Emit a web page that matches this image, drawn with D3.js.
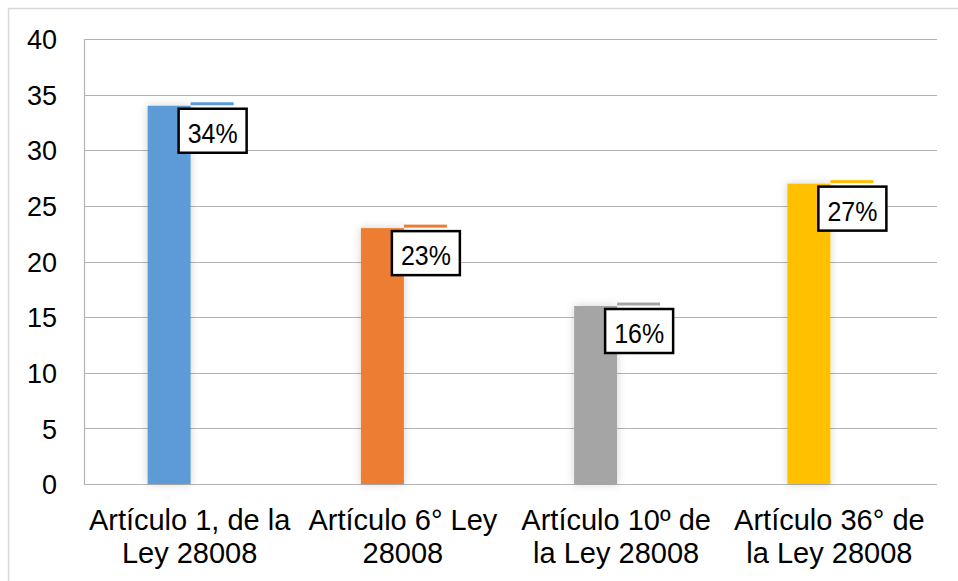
<!DOCTYPE html>
<html>
<head>
<meta charset="utf-8">
<script src="https://cdn.jsdelivr.net/npm/d3@7"></script>
<style>
  html, body { margin: 0; padding: 0; background: #fff; }
  svg { display: block; }
  text { font-family: "Liberation Sans", Arial, sans-serif; }
</style>
</head>
<body>
<svg id="chart" width="958" height="581"></svg>
<script>
// Categories (two-line labels), values and their percentage labels
const categories = [
  ["Artículo 1, de la", "Ley 28008"],
  ["Artículo 6° Ley", "28008"],
  ["Artículo 10º de", "la Ley 28008"],
  ["Artículo 36° de", "la Ley 28008"]
];
const values = [34, 23, 16, 27];
const valueLabels = ["34%", "23%", "16%", "27%"];
const colors = ["#5b9bd5", "#ed7d31", "#a5a5a5", "#ffc000"];
const yTicks = [0, 5, 10, 15, 20, 25, 30, 35, 40];

const svg = d3.select("#chart");
const W = 958, H = 581;
const margin = { left: 84, right: 21, top: 39, bottom: 97 };

// Outer chart border
svg.append("rect")
  .attr("x", 8.5).attr("y", 8.5)
  .attr("width", W + 10).attr("height", H + 10)
  .attr("fill", "none").attr("stroke", "#d9d9d9").attr("stroke-width", 1.5);

const x = d3.scaleBand()
  .domain(d3.range(categories.length))
  .range([margin.left, W - margin.right])
  .paddingInner(0).paddingOuter(0);

const y = d3.scaleLinear().domain([0, 40]).range([H - margin.bottom, margin.top]);

// Soft shadow behind the columns
const defs = svg.append("defs");
const f = defs.append("filter").attr("id", "glow")
  .attr("x", "-50%").attr("y", "-10%").attr("width", "200%").attr("height", "120%");
f.append("feDropShadow").attr("dx", 0).attr("dy", 0)
  .attr("stdDeviation", 4).attr("flood-color", "#000").attr("flood-opacity", 0.18);

// Horizontal gridlines
svg.append("g").selectAll("line").data(yTicks).join("line")
  .attr("x1", margin.left).attr("x2", W - margin.right)
  .attr("y1", d => Math.round(y(d)) + 0.5).attr("y2", d => Math.round(y(d)) + 0.5)
  .attr("stroke", "#b3b3b3").attr("stroke-width", 1.2);

// Left edge of the plot area
svg.append("line")
  .attr("x1", margin.left + 0.5).attr("x2", margin.left + 0.5)
  .attr("y1", y(40)).attr("y2", y(0))
  .attr("stroke", "#b3b3b3").attr("stroke-width", 1.2);

// Y axis labels
const yAxis = d3.axisLeft(y).tickValues(yTicks).tickSize(0).tickPadding(27);
const gy = svg.append("g").attr("transform", `translate(${margin.left},0)`).call(yAxis);
gy.select(".domain").remove();
gy.selectAll("text")
  .attr("font-size", 27).attr("fill", "#000")
  .attr("dy", "0.36em")
  .attr("font-family", "Liberation Sans, Arial, sans-serif");

const barW = 43;

// Main columns
svg.append("g").selectAll("rect").data(values).join("rect")
  .attr("x", (d, i) => x(i) + x.bandwidth() / 2 - barW)
  .attr("y", d => y(d))
  .attr("width", barW)
  .attr("height", d => y(0) - y(d))
  .attr("fill", (d, i) => colors[i])
  .attr("filter", "url(#glow)");

// Thin companion strip at the top of each column
svg.append("g").selectAll("rect").data(values).join("rect")
  .attr("x", (d, i) => x(i) + x.bandwidth() / 2)
  .attr("y", d => y(d) - 3.5)
  .attr("width", barW)
  .attr("height", 3)
  .attr("fill", (d, i) => colors[i]);

// Boxed value labels
const lbl = svg.append("g").selectAll("g").data(values).join("g")
  .attr("transform", (d, i) => `translate(${x(i) + x.bandwidth() / 2 - 12},${y(d) + 3})`);
lbl.append("rect")
  .attr("x", 0).attr("y", 0).attr("width", 68).attr("height", 44)
  .attr("fill", "#fff").attr("stroke", "#000").attr("stroke-width", 2.5);
lbl.append("text")
  .attr("x", 34).attr("y", 34)
  .attr("text-anchor", "middle")
  .attr("font-size", 27)
  .attr("font-family", "DejaVu Sans Condensed, DejaVu Sans, sans-serif")
  .attr("textLength", 50)
  .attr("lengthAdjust", "spacingAndGlyphs")
  .attr("fill", "#000")
  .text((d, i) => valueLabels[i]);

// Category labels on two lines
const cat = svg.append("g").selectAll("text").data(categories).join("text")
  .attr("text-anchor", "middle")
  .attr("font-size", 29)
  .attr("fill", "#000")
  .attr("transform", (d, i) => `translate(${x(i) + x.bandwidth() / 2 - 1},0)`);
cat.selectAll("tspan").data(d => d).join("tspan")
  .attr("x", 0)
  .attr("y", (d, j) => 530 + j * 33)
  .text(d => d);
</script>
</body>
</html>
